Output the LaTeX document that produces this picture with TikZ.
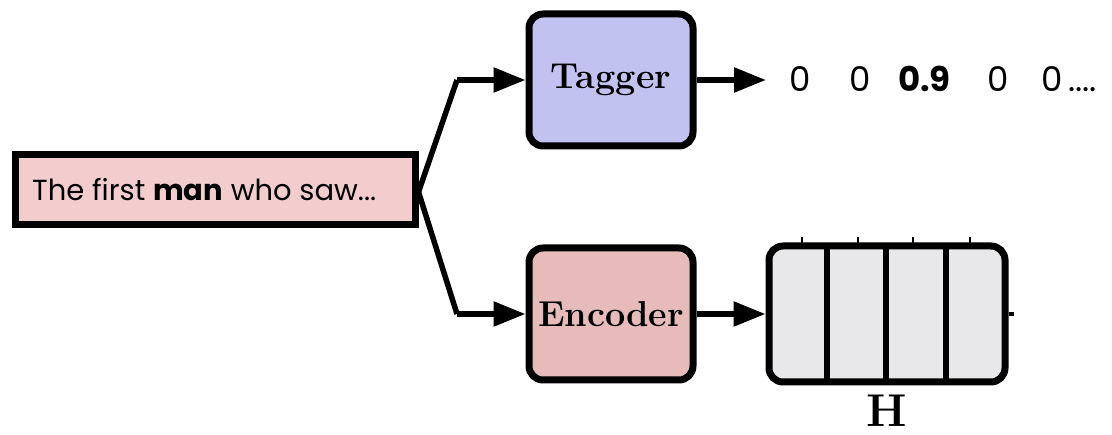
\documentclass[tikz,border=0pt]{standalone}
\usepackage{fontspec}
\newfontfamily\sansf{Poppins}
\usetikzlibrary{arrows.meta,positioning}
\begin{document}
\begin{tikzpicture}[x=1pt,y=-1pt,
  box/.style={draw=black,line width=7pt,rounded corners=14pt,minimum width=164pt,minimum height=132pt,inner sep=0pt},
  link/.style={line width=5.5pt,-{Triangle[length=32pt,width=24pt]}},
  plain/.style={line width=5.5pt},
  lbl/.style={font=\bfseries\fontsize{36}{40}\selectfont},
  num/.style={font=\sansf\fontsize{34}{36}\selectfont,inner sep=0pt,anchor=base west}]
\useasboundingbox (0,0) rectangle (1112,435);
\definecolor{inpink}{HTML}{F3CDCD}
\definecolor{tagblue}{HTML}{C2C2F0}
\definecolor{encpink}{HTML}{E8BBBB}
\definecolor{hgray}{HTML}{E8E8EA}

% input sentence
\node[draw=black,line width=7pt,fill=inpink,minimum width=400pt,minimum height=70pt,inner sep=0pt] (inp) at (215,190) {};
\node[font=\sansf\fontsize{29}{34}\selectfont,anchor=west,inner sep=0pt] (sent) at (32,190) {The first \textbf{man} who saw...};

% tagger and encoder
\node[box,fill=tagblue,lbl] (tag) at (611,80) {Tagger};
\node[box,fill=encpink,lbl] (enc) at (611,314) {Encoder};

% branching connectors
\coordinate (split) at (421,192);
\coordinate (up) at (457,80);
\coordinate (dn) at (457,314);
\draw[plain,line join=round] (inp.east |- split) -- (up);
\draw[plain,line join=round] (inp.east |- split) -- (dn);
\draw[link] (up) -- (tag.west);
\draw[link] (dn) -- (enc.west);

% tagger output scores
\coordinate (out) at (766,80);
\draw[link] (tag.east) -- (out);
\node[num] (s1) at (789,92) {0};
\node[num] (s2) at (849,92) {0};
\node[num] (s3) at (898,92) {\textbf{0.9}};
\node[num] (s4) at (987,92) {0};
\node[num] (s5) at (1041,92) {0\,....};

% encoder states H
\node[draw=black,line width=7pt,rounded corners=14pt,fill=hgray,minimum width=236pt,minimum height=136pt,inner sep=0pt] (H) at (887,314) {};
\draw[link] (enc.east) -- (H.west);
\foreach \x in {827,886,946} \draw[line width=6pt] (\x,247) -- (\x,382);
\foreach \x in {802,858,913,970} \draw[line width=1.5pt] (\x,237) -- (\x,244);
\draw[line width=4pt] (H.east) -- ++(5,0);
\node[font=\bfseries\fontsize{46}{48}\selectfont,inner sep=0pt,anchor=base] (hl) at (887,427) {H};
\end{tikzpicture}
\end{document}
